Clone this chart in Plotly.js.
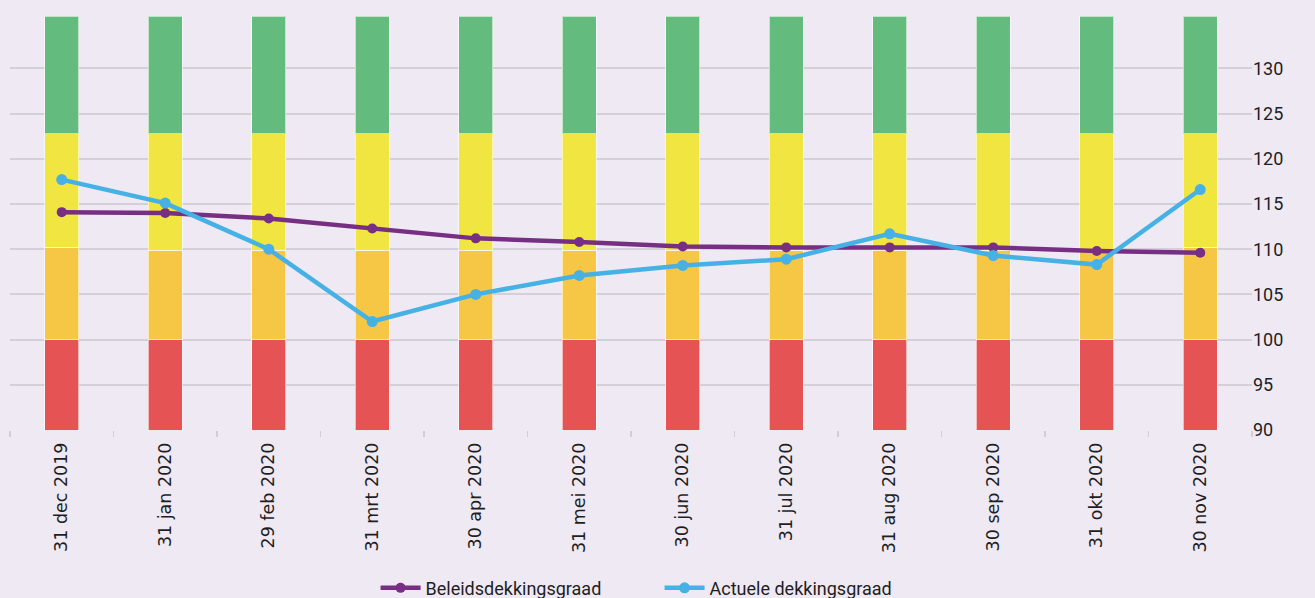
<!DOCTYPE html>
<html>
<head>
<meta charset="utf-8">
<script src="https://cdn.plot.ly/plotly-3.0.1.min.js"></script>
<style>
  html, body { margin: 0; padding: 0; background: #efe9f4; }
  #chart { width: 1315px; height: 598px; }
</style>
</head>
<body>
<div id="chart"></div>
<script>
const categories = ['31 dec 2019','31 jan 2020','29 feb 2020','31 mrt 2020','30 apr 2020','31 mei 2020','30 jun 2020','31 jul 2020','31 aug 2020','30 sep 2020','31 okt 2020','30 nov 2020'];

// zone boundaries (top of each coloured band)
const redTop    = [100,100,100,100,100,100,100,100,100,100,100,100];
const orangeTop = [110.2,109.9,109.9,109.9,109.9,109.9,109.9,109.9,109.9,109.9,109.9,110.2];
const yellowTop = [122.8,122.8,122.8,122.8,122.8,122.8,122.8,122.8,122.8,122.8,122.8,122.8];
const greenTop  = [135.8,135.8,135.8,135.8,135.8,135.8,135.8,135.8,135.8,135.8,135.8,135.8];

const beleids = [114.1,114.0,113.4,112.3,111.2,110.8,110.3,110.2,110.2,110.2,109.8,109.6];
const actueel = [117.7,115.1,110.0,102.0,105.0,107.1,108.2,108.9,111.7,109.3,108.3,116.6];

const yTicks = [90,95,100,105,110,115,120,125,130];

const diff = (a, b) => a.map((v, i) => v - b[i]);
const barLine = {color: 'rgba(255,255,255,0.6)', width: 1};

const traces = [
  {type:'bar', x:categories, y:redTop, marker:{color:'#e55354', line:barLine}, showlegend:false, hoverinfo:'skip'},
  {type:'bar', x:categories, y:diff(orangeTop, redTop), marker:{color:'#f6c645', line:barLine}, showlegend:false, hoverinfo:'skip'},
  {type:'bar', x:categories, y:diff(yellowTop, orangeTop), marker:{color:'#f0e541', line:barLine}, showlegend:false, hoverinfo:'skip'},
  {type:'bar', x:categories, y:diff(greenTop, yellowTop), marker:{color:'#64bb7e', line:barLine}, showlegend:false, hoverinfo:'skip'},
  {type:'scatter', mode:'lines+markers', name:'Beleidsdekkingsgraad', x:categories, y:beleids,
   line:{color:'#772f83', width:4.5}, marker:{color:'#772f83', size:10}},
  {type:'scatter', mode:'lines+markers', name:'Actuele dekkingsgraad', x:categories, y:actueel,
   line:{color:'#46b1e5', width:4.5}, marker:{color:'#46b1e5', size:11}}
];

const layout = {
  width: 1315, height: 598,
  paper_bgcolor: '#efe9f4', plot_bgcolor: '#efe9f4',
  margin: {l: 10, r: 63, t: 16, b: 168, autoexpand: false},
  barmode: 'stack',
  bargap: 0.67,
  showlegend: true,
  xaxis: {
    type: 'category',
    automargin: false,
    range: [-0.5, categories.length - 0.5],
    tickangle: -90,
    tickson: 'boundaries',
    ticks: 'outside', ticklen: 6, tickcolor: '#d2ced6', tickwidth: 1.5,
    ticklabelstandoff: 8,
    showgrid: false,
    showline: false,
    tickfont: {family: 'DejaVu Sans', size: 17.5, color: '#1e1e1e'},
    fixedrange: true
  },
  yaxis: {
    side: 'right',
    automargin: false,
    range: [90, 135.8],
    tickvals: yTicks,
    ticktext: yTicks.map(String),
    showgrid: true, gridcolor: '#d4d0d8', gridwidth: 2,
    zeroline: false,
    showline: false,
    ticks: '',
    tickfont: {family: 'Roboto', size: 18, color: '#1e1e1e'},
    fixedrange: true
  },
  legend: {
    orientation: 'h',
    traceorder: 'normal',
    x: 0.523, xanchor: 'center',
    y: -0.382, yanchor: 'middle',
    font: {family: 'Roboto', size: 18, color: '#1e1e1e'},
    itemwidth: 40,
    entrywidth: 229,
    bgcolor: 'rgba(0,0,0,0)'
  }
};

Plotly.newPlot('chart', traces, layout, {displayModeBar: false, staticPlot: true});
</script>
</body>
</html>
